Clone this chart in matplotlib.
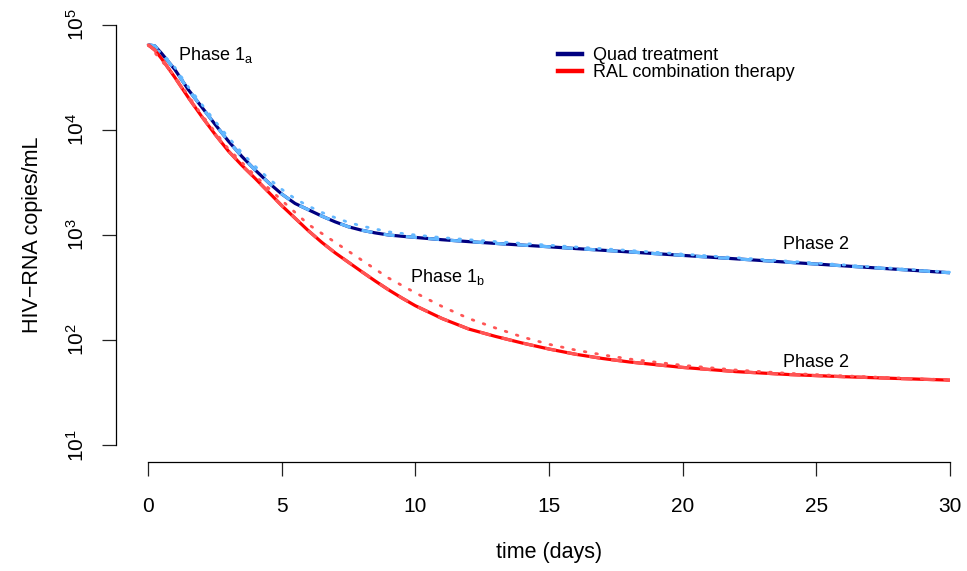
import numpy as np
import matplotlib
matplotlib.use("Agg")
import matplotlib.pyplot as plt
from matplotlib.lines import Line2D

plt.rcParams['font.family'] = ['Liberation Sans', 'DejaVu Sans']
plt.rcParams['mathtext.fontset'] = 'custom'
plt.rcParams['mathtext.rm'] = 'Liberation Sans'
plt.rcParams['mathtext.it'] = 'Liberation Sans:italic'

# time grid for the solid (model) curves, days
t_days = [0, 0.25, 0.5, 1, 1.5, 2, 2.5, 3, 3.5, 4, 4.5, 5, 5.5, 6, 6.5, 7, 7.5, 8,
          8.5, 9, 9.5, 10, 11, 12, 13, 14, 15, 16, 17, 18, 20, 22, 24, 26, 28, 30]

# log10 HIV-RNA copies/mL
log_quad = [4.81, 4.80, 4.73, 4.575, 4.385, 4.22, 4.055, 3.895, 3.75, 3.62, 3.50, 3.39,
            3.30, 3.24, 3.18, 3.125, 3.078, 3.045, 3.02, 3.0, 2.988, 2.977, 2.955, 2.937,
            2.92, 2.904, 2.888, 2.871, 2.855, 2.839, 2.806, 2.773, 2.740, 2.707, 2.674, 2.641]
log_ral = [4.81, 4.76, 4.68, 4.50, 4.31, 4.13, 3.96, 3.80, 3.665, 3.54, 3.41, 3.28,
           3.16, 3.04, 2.93, 2.83, 2.74, 2.65, 2.562, 2.478, 2.40, 2.327, 2.205, 2.105,
           2.035, 1.972, 1.915, 1.865, 1.825, 1.792, 1.74, 1.70, 1.672, 1.652, 1.635, 1.619]

# dotted (approximation) curves
t_quad_dot = [0, 0.5, 1, 1.5, 2, 2.5, 3, 3.5, 4, 4.5, 5, 5.5, 6, 6.5, 7, 7.5, 8, 9, 10,
              11, 12, 14, 16, 18, 20, 22, 24, 26, 28, 30]
log_quad_dot = [4.81, 4.735, 4.595, 4.41, 4.245, 4.085, 3.93, 3.785, 3.655, 3.54, 3.435,
                3.345, 3.275, 3.215, 3.165, 3.12, 3.085, 3.03, 3.0, 2.975, 2.955, 2.92,
                2.886, 2.853, 2.818, 2.784, 2.75, 2.716, 2.681, 2.646]
t_ral_dot = [0, 1, 2, 3, 4, 5, 6, 7, 8, 9, 10, 11, 12, 13, 14, 15, 16, 17, 18, 20, 22,
             24, 26, 28, 30]
log_ral_dot = [4.81, 4.51, 4.145, 3.82, 3.565, 3.33, 3.10, 2.93, 2.76, 2.59, 2.45, 2.32,
               2.205, 2.115, 2.03, 1.96, 1.905, 1.86, 1.82, 1.76, 1.715, 1.683, 1.66, 1.64, 1.622]

x_ticks = [0, 5, 10, 15, 20, 25, 30]
y_ticks = [1e1, 1e2, 1e3, 1e4, 1e5]
y_ticklabels = [r'$10^{1}$', r'$10^{2}$', r'$10^{3}$', r'$10^{4}$', r'$10^{5}$']

W, H = 967, 571
fig = plt.figure(figsize=(W / 100, H / 100), dpi=100)
ax = fig.add_axes([116 / W, (H - 462) / H, 866 / W, 454 / H])

navy, lblue = '#000080', '#63B8FF'
red, lred = '#FF0000', '#FF5555'
dash = (0, (3.5, 3.5))
dot = (0, (0.6, 3.6))

t = np.array(t_days)
ax.plot(t, 10 ** np.array(log_quad), color=navy, lw=2.3, solid_capstyle='butt')
ax.plot(t, 10 ** np.array(log_quad), color=lblue, lw=2.3, linestyle=dash)
ax.plot(t_quad_dot, 10 ** np.array(log_quad_dot), color=lblue, lw=2.0,
        linestyle=dot, dash_capstyle='round')
ax.plot(t, 10 ** np.array(log_ral), color=red, lw=2.3, solid_capstyle='butt')
ax.plot(t, 10 ** np.array(log_ral), color=lred, lw=2.3, linestyle=dash)
ax.plot(t_ral_dot, 10 ** np.array(log_ral_dot), color=lred, lw=2.0,
        linestyle=dot, dash_capstyle='round')

ax.set_yscale('log')
ax.set_xlim(-1.2, 31.2)
ax.set_ylim(10 ** 0.84, 10 ** 5.16)

for s in ['top', 'right']:
    ax.spines[s].set_visible(False)
ax.spines['left'].set_bounds(1e1, 1e5)
ax.spines['bottom'].set_bounds(0, 30)
ax.spines['left'].set_linewidth(0.9)
ax.spines['bottom'].set_linewidth(0.9)

ax.set_xticks(x_ticks)
ax.set_xticklabels([str(v) for v in x_ticks], fontsize=15)
ax.set_yticks(y_ticks)
ax.set_yticklabels(y_ticklabels, fontsize=15, rotation=90, va='center')
ax.yaxis.set_minor_locator(matplotlib.ticker.NullLocator())
ax.tick_params(axis='both', length=10, width=0.9, color='#222222')
ax.tick_params(axis='x', pad=15)
ax.tick_params(axis='y', pad=10)

ax.set_xlabel('time (days)', fontsize=15.5, labelpad=19)
ax.set_ylabel('HIV\u2212RNA copies/mL', fontsize=15.5, labelpad=17)

ax.text(1.12, 10 ** 4.714, r'Phase 1$_{\mathrm{a}}$', fontsize=13, va='center')
ax.text(9.8, 10 ** 2.6, r'Phase 1$_{\mathrm{b}}$', fontsize=13, va='center')
ax.text(23.76, 10 ** 2.905, 'Phase 2', fontsize=13, va='center')
ax.text(23.76, 10 ** 1.79, 'Phase 2', fontsize=13, va='center')

handles = [Line2D([], [], color=navy, lw=3.2), Line2D([], [], color=red, lw=3.2)]
ax.legend(handles, ['Quad treatment', 'RAL combination therapy'], loc='upper left',
          bbox_to_anchor=(558 / W, 1 - 47 / H), bbox_transform=fig.transFigure,
          frameon=False, fontsize=13, handlelength=1.35, handletextpad=0.6,
          labelspacing=0.0, borderpad=0, borderaxespad=0)

fig.savefig('out.png', dpi=100)
